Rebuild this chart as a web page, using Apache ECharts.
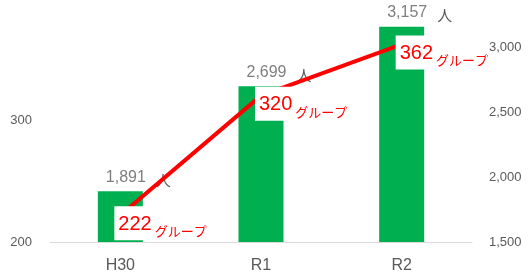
<!DOCTYPE html>
<html>
<head>
<meta charset="utf-8">
<script src="https://cdn.jsdelivr.net/npm/echarts@6/dist/echarts.min.js"></script>
<style>
  html, body { margin: 0; padding: 0; background: #fff; }
  #main { width: 529px; height: 278px; }
</style>
</head>
<body>
<div id="main"></div>
<script>
// 年度
var categories = ['H30', 'R1', 'R2'];
// 人数（棒）
var people = [1891, 2699, 3157];
// グループ数（折れ線）
var groups = [222, 320, 362];

var chart = echarts.init(document.getElementById('main'));

var numFont = '"Liberation Sans", "Noto Sans CJK JP", sans-serif';
var jpFont = '"Noto Sans CJK JP", sans-serif';

var option = {
  animation: false,
  backgroundColor: '#fff',
  grid: { left: 50, right: 57, top: 20, bottom: 36 },
  xAxis: {
    type: 'category',
    data: categories,
    axisLine: { lineStyle: { color: '#d9d9d9' } },
    axisTick: { show: false },
    axisLabel: { color: '#595959', fontSize: 16, fontFamily: numFont, margin: 16 }
  },
  yAxis: [{
    type: 'value',
    min: 200,
    max: 382,
    interval: 100,
    splitLine: { show: false },
    axisLine: { show: false },
    axisTick: { show: false },
    axisLabel: { color: '#595959', fontSize: 13, fontFamily: numFont, margin: 18, showMaxLabel: false }
  }, {
    type: 'value',
    min: 1500,
    max: 3208,
    interval: 500,
    splitLine: { show: false },
    axisLine: { show: false },
    axisTick: { show: false },
    axisLabel: {
      color: '#595959', fontSize: 13, fontFamily: numFont, margin: 17, showMaxLabel: false,
      formatter: function (v) { return v.toLocaleString('en-US'); }
    }
  }],
  series: [{
    name: '人数',
    type: 'bar',
    yAxisIndex: 1,
    data: people,
    barWidth: 45,
    itemStyle: { color: '#00b050' },
    label: {
      show: true,
      position: 'top',
      offset: [18, -1],
      formatter: function (p) {
        return '{n|' + p.value.toLocaleString('en-US') + '}   {u|人}';
      },
      rich: {
        n: { fontSize: 16, color: '#7f7f7f', fontFamily: numFont },
        u: { fontSize: 15, color: '#595959', fontFamily: jpFont, padding: [0, 0, -6, 0] }
      }
    }
  }, {
    name: 'グループ',
    type: 'line',
    yAxisIndex: 0,
    data: groups,
    symbol: 'circle',
    symbolSize: 2,
    lineStyle: { color: '#ff0000', width: 4 },
    itemStyle: { color: '#ff0000' },
    z: 5,
    label: {
      show: true,
      position: [-5, -8],
      align: 'left',
      verticalAlign: 'top',
      formatter: function (p) {
        return '{n|' + p.value + '}{u|グループ}';
      },
      rich: {
        n: {
          fontSize: 20, color: '#ff0000', fontFamily: numFont,
          backgroundColor: '#fff', padding: [8, 2, 6, 4]
        },
        u: {
          fontSize: 13, color: '#ff0000', fontFamily: jpFont,
          padding: [0, 0, -16, 1]
        }
      }
    }
  }]
};

chart.setOption(option);
</script>
</body>
</html>
